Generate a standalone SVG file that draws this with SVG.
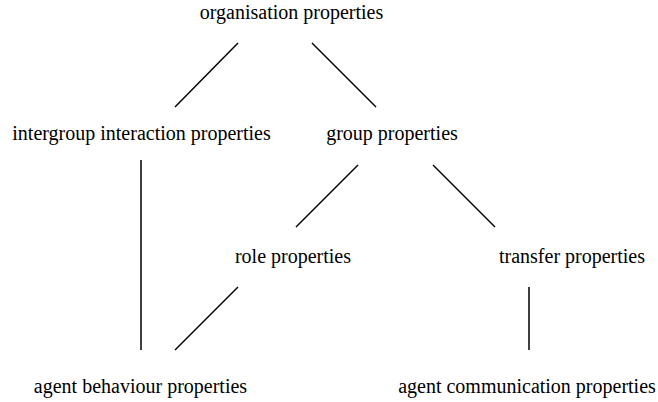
<svg xmlns="http://www.w3.org/2000/svg" width="658" height="402" viewBox="0 0 658 402">
<style>
text{font-family:"Liberation Serif","Times New Roman",serif;font-size:20px;fill:#000;text-anchor:middle}
line{stroke:#000;stroke-width:1.5}
</style>
<rect width="658" height="402" fill="#fff"/>
<g id="connectors">
<line x1="238" y1="43" x2="175" y2="107"/>
<line x1="312" y1="43" x2="376" y2="107"/>
<line x1="141" y1="160" x2="141" y2="350"/>
<line x1="358" y1="165" x2="296" y2="227"/>
<line x1="433" y1="165" x2="495" y2="227"/>
<line x1="238" y1="287" x2="175" y2="350"/>
<line x1="529" y1="287" x2="529" y2="350"/>
</g>
<g id="organisation"><text x="291.5" y="19">organisation properties</text></g>
<g id="intergroup"><text x="141.5" y="140">intergroup interaction properties</text></g>
<g id="group"><text x="392" y="140">group properties</text></g>
<g id="role"><text x="293" y="263">role properties</text></g>
<g id="transfer"><text x="572" y="263">transfer properties</text></g>
<g id="agentbehaviour"><text x="140.5" y="393">agent behaviour properties</text></g>
<g id="agentcomm"><text x="527" y="393">agent communication properties</text></g>
</svg>
